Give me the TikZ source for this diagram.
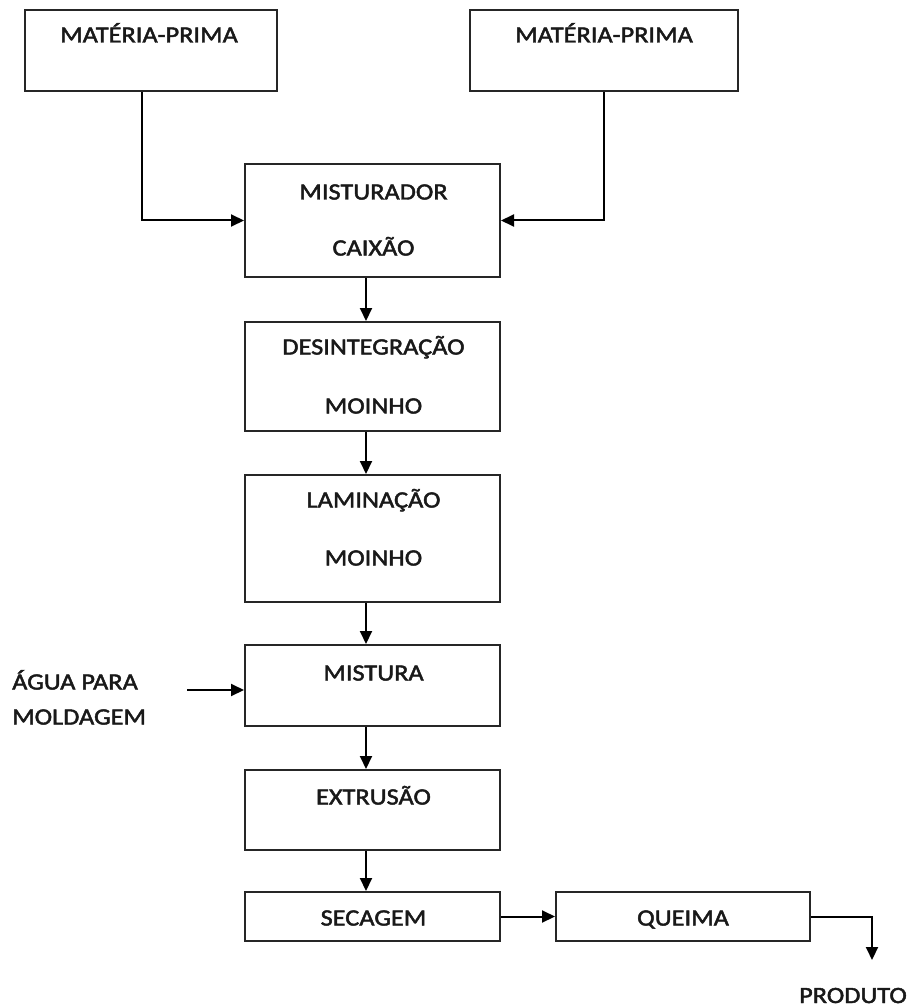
\documentclass[tikz,border=0pt]{standalone}
\usepackage{fontspec}
\setmainfont{Carlito}[FakeStretch=1.13,FakeBold=2]
\usetikzlibrary{arrows.meta}
\begin{document}
\begin{tikzpicture}[x=1pt,y=-1pt,
  box/.style={draw=black!85,line width=2pt,rectangle,inner sep=0pt},
  txt/.style={anchor=base,inner sep=0pt,font=\fontsize{23.3}{28}\selectfont,text=black!90},
  arr/.style={line width=2pt,-{Triangle[length=13pt,width=12pt]}},
  ln/.style={line width=2pt}]
\useasboundingbox (0,0) rectangle (911,1008);
% boxes
\node[box,minimum width=252pt,minimum height=81pt] (mp1) at (151,50.5) {};
\node[box,minimum width=268pt,minimum height=81pt] (mp2) at (604,50.5) {};
\node[box,minimum width=255pt,minimum height=113pt] (mix) at (372.5,220.5) {};
\node[box,minimum width=255pt,minimum height=109pt] (des) at (372.5,376.5) {};
\node[box,minimum width=255pt,minimum height=127pt] (lam) at (372.5,538.5) {};
\node[box,minimum width=255pt,minimum height=81pt] (mis) at (372.5,685.5) {};
\node[box,minimum width=255pt,minimum height=80pt] (ext) at (372.5,810) {};
\node[box,minimum width=255pt,minimum height=49pt] (sec) at (372.5,916.5) {};
\node[box,minimum width=254pt,minimum height=49pt] (que) at (683,916.5) {};
% texts
\node[txt] (t1) at (149,42.5) {MATÉRIA-PRIMA};
\node[txt] (t2) at (604,42.5) {MATÉRIA-PRIMA};
\node[txt] (t3) at (373.5,199.5) {MISTURADOR};
\node[txt] (t4) at (373.5,255.5) {CAIXÃO};
\node[txt] (t5) at (373.5,354.5) {DESINTEGRAÇÃO};
\node[txt] (t6) at (373.5,413.5) {MOINHO};
\node[txt] (t7) at (373.5,507.5) {LAMINAÇÃO};
\node[txt] (t8) at (373.5,565.5) {MOINHO};
\node[txt] (t9) at (373.5,680.5) {MISTURA};
\node[txt] (t10) at (373.5,804.5) {EXTRUSÃO};
\node[txt] (t11) at (373.5,925.5) {SECAGEM};
\node[txt] (t12) at (683,925.5) {QUEIMA};
\node[txt,anchor=base west] (t13) at (12,689.5) {ÁGUA PARA};
\node[txt,anchor=base west] (t14) at (12,724.5) {MOLDAGEM};
\node[txt] (t15) at (853,1003) {PRODUTO};
% connectors
\coordinate (aw) at (187,690);
\coordinate (pe) at (872,960);
\draw[arr] ([xshift=-9pt]mp1.south) |- (mix.west);
\draw[arr] (mp2.south) |- (mix.east);
\draw[arr] ([xshift=-6.5pt]mix.south) -- ([xshift=-6.5pt]des.north);
\draw[arr] ([xshift=-6.5pt]des.south) -- ([xshift=-6.5pt]lam.north);
\draw[arr] ([xshift=-6.5pt]lam.south) -- ([xshift=-6.5pt]mis.north);
\draw[arr] ([xshift=-6.5pt]mis.south) -- ([xshift=-6.5pt]ext.north);
\draw[arr] ([xshift=-6.5pt]ext.south) -- ([xshift=-6.5pt]sec.north);
\draw[arr] (aw) -- (aw -| mis.west);
\draw[arr] (sec.east) -- (que.west);
\draw[arr] (que.east) -| (pe);
\end{tikzpicture}
\end{document}
